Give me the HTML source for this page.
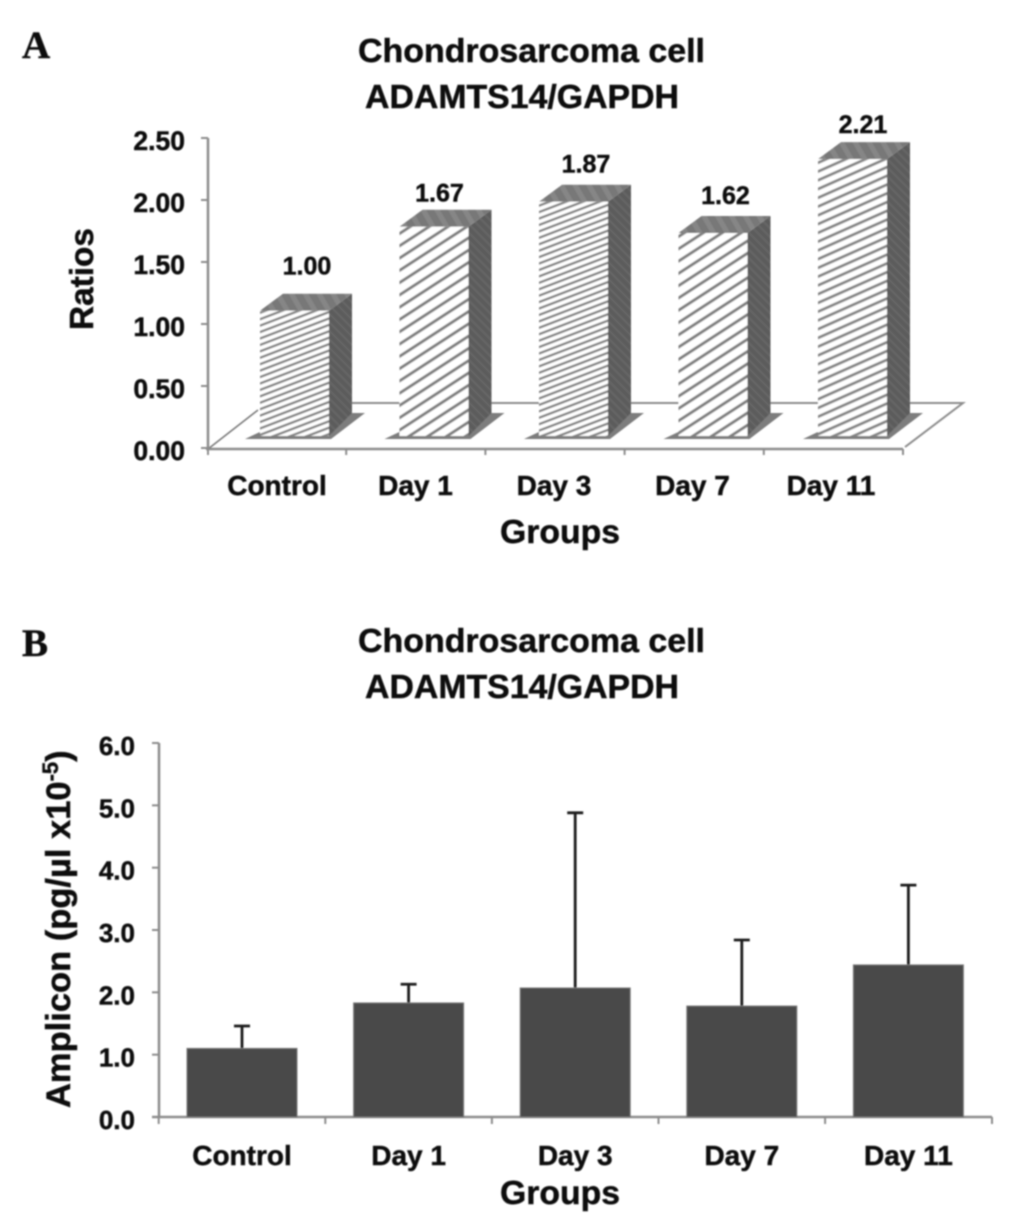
<!DOCTYPE html>
<html lang="en">
<head>
<meta charset="utf-8">
<title>Chondrosarcoma cell ADAMTS14/GAPDH</title>
<style>
html,body{margin:0;padding:0;background:#fff;width:1033px;height:1222px;overflow:hidden}
svg{display:block}
text{font-family:"Liberation Sans",sans-serif;font-weight:bold;fill:#111;stroke:#111;stroke-width:0.45px}
</style>
</head>
<body>
<svg id="figure" xmlns="http://www.w3.org/2000/svg" width="1033" height="1222" viewBox="0 0 1033 1222">
  <defs>
    <filter id="soft" x="-5%" y="-5%" width="110%" height="110%"><feGaussianBlur stdDeviation="0.8"/></filter>
    <pattern id="hatch-dense" patternUnits="userSpaceOnUse" width="20" height="6" patternTransform="rotate(-21)">
      <rect width="20" height="6" fill="#fff"/><rect width="20" height="2.4" fill="#858585"/>
    </pattern>
    <pattern id="hatch-medium" patternUnits="userSpaceOnUse" width="20" height="8" patternTransform="rotate(-24)">
      <rect width="20" height="8" fill="#fff"/><rect width="20" height="2.8" fill="#858585"/>
    </pattern>
    <pattern id="hatch-wide" patternUnits="userSpaceOnUse" width="20" height="10.3" patternTransform="rotate(-33)">
      <rect width="20" height="10.3" fill="#fff"/><rect width="20" height="3" fill="#808080"/>
    </pattern>
    <pattern id="hatch-side" patternUnits="userSpaceOnUse" width="6" height="6" patternTransform="rotate(45)">
      <rect width="6" height="6" fill="#5c5c5c"/><rect width="6" height="2" fill="#666"/>
    </pattern>
    <pattern id="hatch-top" patternUnits="userSpaceOnUse" width="12" height="12" patternTransform="rotate(60)">
      <rect width="12" height="12" fill="#787878"/><rect width="12" height="5" fill="#868686"/>
    </pattern>
  </defs>
  <g id="root" filter="url(#soft)">
    <text x="22" y="58" style="font-family:'Liberation Serif',serif;font-size:39px">A</text>
    <text x="358" y="62" font-size="33" textLength="347" lengthAdjust="spacingAndGlyphs">Chondrosarcoma cell</text>
    <text x="365" y="108" font-size="33" textLength="314" lengthAdjust="spacingAndGlyphs">ADAMTS14/GAPDH</text>
    <text transform="translate(93,330) rotate(-90)" font-size="33" textLength="102" lengthAdjust="spacingAndGlyphs">Ratios</text>
    <text x="500" y="543" font-size="33" textLength="120" lengthAdjust="spacingAndGlyphs">Groups</text>
    <g id="chart-a"></g>

    <text x="22" y="656" style="font-family:'Liberation Serif',serif;font-size:39px">B</text>
    <text x="358" y="652" font-size="33" textLength="347" lengthAdjust="spacingAndGlyphs">Chondrosarcoma cell</text>
    <text x="365" y="698" font-size="33" textLength="314" lengthAdjust="spacingAndGlyphs">ADAMTS14/GAPDH</text>
    <text transform="translate(70,1108) rotate(-90)" font-size="34.5">Amplicon (pg/µl x10<tspan font-size="22" dy="-12">-5</tspan><tspan dy="12">)</tspan></text>
    <text x="500" y="1204" font-size="33" textLength="120" lengthAdjust="spacingAndGlyphs">Groups</text>
    <g id="chart-b"></g>
  </g>
</svg>
<script>
const categories = ['Control', 'Day 1', 'Day 3', 'Day 7', 'Day 11'];
const ratioValues = [1.00, 1.67, 1.87, 1.62, 2.21];
const ratioLabels = ['1.00', '1.67', '1.87', '1.62', '2.21'];
const ratioTicks = [0, 0.5, 1, 1.5, 2, 2.5];
const ratioTickLabels = ['0.00', '0.50', '1.00', '1.50', '2.00', '2.50'];
const ampliconValues = [1.10, 1.83, 2.07, 1.78, 2.44];
const ampliconErrorTops = [1.46, 2.13, 4.88, 2.84, 3.72];
const ampliconTicks = [0, 1, 2, 3, 4, 5, 6];
const ampliconTickLabels = ['0.0', '1.0', '2.0', '3.0', '4.0', '5.0', '6.0'];

const NS = 'http://www.w3.org/2000/svg';
function make(parent, tag, name, props, content) {
  const el = document.createElementNS(NS, tag);
  
  
  Object.keys(props).forEach(function (k) { el.setAttribute(k, props[k]); });
  if (content !== undefined) el.textContent = content;
  parent.appendChild(el);
  return el;
}
function pts(list) { return list.map(function (p) { return p[0] + ',' + p[1]; }).join(' '); }

/* ---------- Panel A ---------- */
const gA = document.getElementById('chart-a');
const axisA = function (v) { return 448 - v * 124; };
const barTopA = function (v) { return 436 - v * 125.3; };
const bandA = function (i) { return 260 + i * 139.5; };
const AXIS = '#8c8c8c';
const barW = 69, depthX = 23, depthY = 17;

function hatchFor(i) {
  if (i % 2 === 1) return 'url(#hatch-wide)';
  return i === 4 ? 'url(#hatch-medium)' : 'url(#hatch-dense)';
}
/* Hand placement of the printed value labels, relative to each bar's top. */
function labelShiftX(i) { return i === 1 ? -7 : (i === 4 ? -2 : 0); }
function labelLift(i) { return [36, 25, 29, 29, 26][i]; }

make(gA, 'polyline', 'floor-left-edge', {points: pts([[208,449],[258,410]]), fill: 'none', stroke: '#777', 'stroke-width': 1.5});
make(gA, 'polyline', 'floor-back-edge', {points: pts([[340,403],[963,403],[905,447]]), fill: 'none', stroke: '#8c8c8c', 'stroke-width': 2});
make(gA, 'line', 'y-axis-line', {x1: 208, y1: 138, x2: 208, y2: 449, stroke: AXIS, 'stroke-width': 2.5});
make(gA, 'line', 'x-axis-line', {x1: 206, y1: 449, x2: 903, y2: 449, stroke: AXIS, 'stroke-width': 2.5});

ratioTicks.forEach(function (t, i) {
  make(gA, 'line', 'y-tick-' + ratioTickLabels[i], {x1: 201, x2: 208, y1: axisA(t), y2: axisA(t), stroke: AXIS, 'stroke-width': 2});
  make(gA, 'text', 'y-tick-label-' + ratioTickLabels[i], {x: 185, y: axisA(t) + 12, 'font-size': 26.5, 'text-anchor': 'end'}, ratioTickLabels[i]);
});

categories.forEach(function (c, i) {
  const x = i === 0 ? 208 : 207 + i * 139.2;
  make(gA, 'line', 'x-tick-' + i, {x1: x, x2: x, y1: 449, y2: 455, stroke: AXIS, 'stroke-width': 2});
});
make(gA, 'line', 'x-tick-end', {x1: 903, x2: 903, y1: 449, y2: 455, stroke: AXIS, 'stroke-width': 2});

categories.forEach(function (c, i) {
  const L = bandA(i), R = L + barW, top = barTopA(ratioValues[i]);
  make(gA, 'polygon', 'bar-shadow-' + i, {points: pts([[L - 15, 439], [R + 2, 439], [R + 36, 413], [L + 40, 413]]), fill: '#7d7d7d'});
  make(gA, 'polygon', 'bar-side-' + i, {points: pts([[R, 436], [R + depthX, 413], [R + depthX, top - depthY], [R, top]]), fill: 'url(#hatch-side)'});
  make(gA, 'polygon', 'bar-top-' + i, {points: pts([[L, top], [L + depthX, top - depthY], [R + depthX, top - depthY], [R, top]]), fill: 'url(#hatch-top)'});
  make(gA, 'rect', 'bar-front-' + c.toLowerCase().replace(' ', '-'), {x: L, y: top, width: barW, height: 436 - top, fill: hatchFor(i)});
  make(gA, 'text', 'bar-value-label-' + i, {x: L + 47 + labelShiftX(i), y: top - depthY - labelLift(i) + 17, 'font-size': 25, 'text-anchor': 'middle'}, ratioLabels[i]);
  make(gA, 'text', 'x-tick-label-' + i, {x: 277 + i * 138.5, y: 495, 'font-size': 28, 'text-anchor': 'middle'}, c);
});

/* ---------- Panel B ---------- */
const gB = document.getElementById('chart-b');
const axisB = function (v) { return 1117 - v * 62.33; };
const bandB = function (i) { return 242 + i * 166.6; };
const halfW = 55;

make(gB, 'line', 'y-axis-line', {x1: 159, y1: 743, x2: 159, y2: 1118, stroke: AXIS, 'stroke-width': 2.5});
make(gB, 'line', 'x-axis-line', {x1: 152, y1: 1117, x2: 992, y2: 1117, stroke: AXIS, 'stroke-width': 2.5});

ampliconTicks.forEach(function (t, i) {
  make(gB, 'line', 'y-tick-' + ampliconTickLabels[i], {x1: 152, x2: 159, y1: axisB(t), y2: axisB(t), stroke: AXIS, 'stroke-width': 2});
  make(gB, 'text', 'y-tick-label-' + ampliconTickLabels[i], {x: 135, y: axisB(t) + 12, 'font-size': 26, 'text-anchor': 'end'}, ampliconTickLabels[i]);
});

categories.forEach(function (c, i) {
  const cx = bandB(i);
  make(gB, 'line', 'x-tick-' + i, {x1: cx - 83.3, x2: cx - 83.3, y1: 1117, y2: 1124, stroke: AXIS, 'stroke-width': 2});
  make(gB, 'line', 'error-bar-stem-' + i, {x1: cx, x2: cx, y1: axisB(ampliconErrorTops[i]), y2: axisB(ampliconValues[i]), stroke: '#1e1e1e', 'stroke-width': 2.8});
  make(gB, 'line', 'error-bar-cap-' + i, {x1: cx - 8, x2: cx + 8, y1: axisB(ampliconErrorTops[i]), y2: axisB(ampliconErrorTops[i]), stroke: '#1e1e1e', 'stroke-width': 2.8});
  make(gB, 'rect', 'bar-' + c.toLowerCase().replace(' ', '-'), {x: cx - halfW, y: axisB(ampliconValues[i]), width: halfW * 2, height: 1117 - axisB(ampliconValues[i]), fill: '#4a4a4a', stroke: '#777', 'stroke-width': 1});
  make(gB, 'text', 'x-tick-label-' + i, {x: cx, y: 1165, 'font-size': 28, 'text-anchor': 'middle'}, c);
});
make(gB, 'line', 'x-tick-end', {x1: 992, x2: 992, y1: 1117, y2: 1124, stroke: AXIS, 'stroke-width': 2});
</script>
</body>
</html>
